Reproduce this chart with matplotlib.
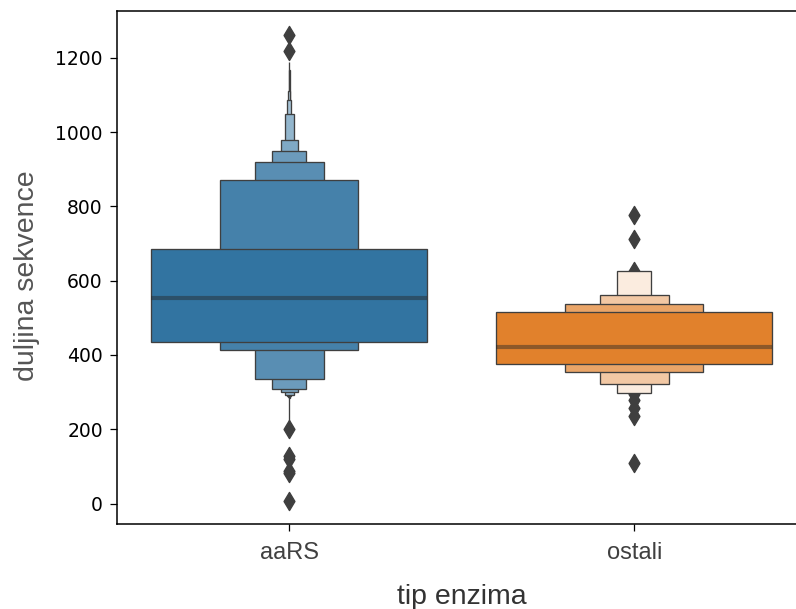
import numpy as np
import matplotlib.pyplot as plt
from matplotlib.patches import Rectangle
from matplotlib.colors import to_rgb

# letter-value boxes (widest box first)
categories = ["aaRS", "ostali"]
base_colors = ["#3274a1", "#e1812c"]

aars_lower = [436, 414, 336, 308, 300, 293, 289, 287, 284, 210]
aars_upper = [684, 872, 919, 948, 980, 1048, 1087, 1111, 1168, 1190]
aars_median = 553
aars_outliers = [1262, 1217, 201, 128, 119, 88, 82, 8]

ostali_lower = [376, 353, 323, 297]
ostali_upper = [515, 537, 561, 625]
ostali_median = 422
ostali_outliers = [778, 713, 626, 296, 280, 258, 236, 110]

groups = [
    (aars_lower, aars_upper, aars_median, aars_outliers),
    (ostali_lower, ostali_upper, ostali_median, ostali_outliers),
]

gray = "#3f3f3f"

fig = plt.figure(figsize=(7.96, 6.09), dpi=100)
ax = fig.add_axes([116.7 / 796, 85 / 609, 690 / 796, 513 / 609])

for i, (lower, upper, med, outl) in enumerate(groups):
    base = np.array(to_rgb(base_colors[i]))
    light = base + 0.85 * (1 - base)
    n = len(lower)
    # narrow boxes first so wider ones sit on top
    for k in range(n - 1, -1, -1):
        w = 0.8 * 0.5 ** k
        frac = k / (n - 1)
        col = base + frac * (light - base)
        ax.add_patch(Rectangle((i - w / 2, lower[k]), w, upper[k] - lower[k],
                               facecolor=col, edgecolor=gray, linewidth=0.95, zorder=2))
    ax.plot([i - 0.4, i + 0.4], [med, med], color=".15", alpha=0.45, linewidth=3.0,
            solid_capstyle="butt", zorder=3)
    ax.scatter(np.repeat(i, len(outl)), outl, marker="d", s=85, c=gray,
               edgecolors=gray, linewidths=1.0, zorder=1.5)

ax.set_xlim(-0.5, 1.5)
ax.set_ylim(-55, 1326)
ax.set_xticks(range(len(categories)))
ax.set_xticklabels(categories, fontsize=17, family="Liberation Sans", color="#404040")
ax.set_yticks([0, 200, 400, 600, 800, 1000, 1200])
ax.tick_params(axis="y", labelsize=13.5, length=5, width=0.9, pad=5)
ax.tick_params(axis="x", length=5, width=0.9, pad=8)
for s in ax.spines.values():
    s.set_linewidth(1.1)

fig.text(462 / 796, (609 - 597) / 609, "tip enzima", ha="center", va="center",
         fontsize=20.5, family="Liberation Sans", color="#333333")
fig.text(27 / 796, (609 - 276) / 609, "duljina sekvence", ha="center", va="center",
         rotation=90, fontsize=20.5, family="Liberation Sans", color="#555555")

fig.savefig("out.png", dpi=100)
